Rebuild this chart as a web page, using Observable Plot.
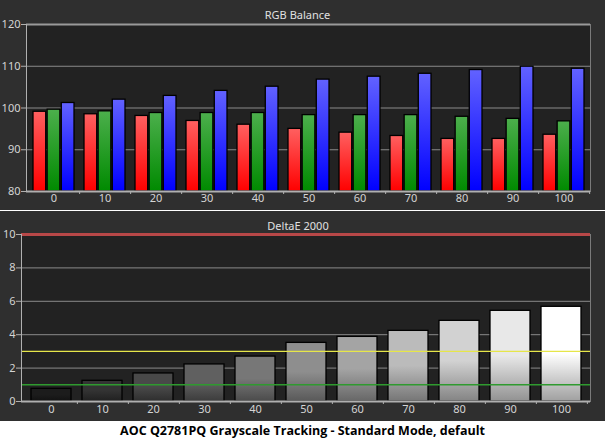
<!DOCTYPE html>
<html><head><meta charset="utf-8">
<script src="https://cdn.jsdelivr.net/npm/d3@7"></script>
<script src="https://cdn.jsdelivr.net/npm/@observablehq/plot@0.6"></script>
<style>
html,body{margin:0;padding:0;background:#2f2f2f;}
#wrap{width:605px;}
.sep{height:1px;background:#ffffff;}
#title{height:20px;background:#ffffff;color:#000;font-family:'Open Sans',sans-serif;font-weight:bold;font-size:12.5px;text-align:center;line-height:20px;}
svg{display:block;}
</style></head><body>
<svg width="0" height="0" style="position:absolute"><defs id="defs">
<linearGradient id="gR" x1="0" y1="0" x2="0" y2="1"><stop offset="0" stop-color="#ff6060"/><stop offset="1" stop-color="#ff0000"/></linearGradient>
<linearGradient id="gG" x1="0" y1="0" x2="0" y2="1"><stop offset="0" stop-color="#4caf4c"/><stop offset="1" stop-color="#008a00"/></linearGradient>
<linearGradient id="gB" x1="0" y1="0" x2="0" y2="1"><stop offset="0" stop-color="#6262ff"/><stop offset="1" stop-color="#0000ff"/></linearGradient>
</defs></svg>
<div id="wrap"></div>
<script>
const levels = [0, 10, 20, 30, 40, 50, 60, 70, 80, 90, 100];
const red   = [99.1, 98.5, 98.1, 96.9, 96.0, 95.0, 94.1, 93.3, 92.6, 92.6, 93.6];
const green = [99.6, 99.2, 98.8, 98.8, 98.8, 98.3, 98.3, 98.3, 97.9, 97.4, 96.8];
const blue  = [101.2, 102.0, 102.9, 104.1, 105.1, 106.8, 107.5, 108.2, 109.1, 109.9, 109.4];
const deltaE = [0.76, 1.24, 1.68, 2.22, 2.69, 3.51, 3.87, 4.23, 4.83, 5.43, 5.67];
const rgbTicks = [80, 90, 100, 110, 120];
const deTicks = [0, 2, 4, 6, 8, 10];
const titleTop = "RGB Balance";
const titleBottom = "DeltaE 2000";
const chartTitle = "AOC Q2781PQ Grayscale Tracking - Standard Mode, default";

const cats = levels.map(String);
const rows = levels.map((l, i) => ({level: String(l), r: red[i], g: green[i], b: blue[i], de: deltaE[i]}));

// gray gradients for the deltaE bars
const defs = document.getElementById("defs");
levels.forEach((l) => {
  const top = d3.interpolateRgb("#1c1c1c", "#ffffff")(l / 100);
  const bot = d3.color(top).darker(1.3).formatHex();
  const g = document.createElementNS("http://www.w3.org/2000/svg", "linearGradient");
  g.setAttribute("id", "gw" + l);
  g.setAttribute("x1", "0"); g.setAttribute("y1", "0"); g.setAttribute("x2", "0"); g.setAttribute("y2", "1");
  [[0, top], [0.5, top], [1, bot]].forEach(([o, c]) => {
    const s = document.createElementNS("http://www.w3.org/2000/svg", "stop");
    s.setAttribute("offset", o); s.setAttribute("stop-color", c); g.appendChild(s);
  });
  defs.appendChild(g);
});

const style = {background: "#2f2f2f", color: "#d4d4d4", fontFamily: "'Noto Sans', sans-serif", fontSize: "11px"};
const stepTop = (605 - 26 - 15) / 11;
const bwTop = stepTop * 0.8;
const barW = (bwTop - 2.8) / 3;

const topPlot = Plot.plot({
  width: 605, height: 210, marginLeft: 26, marginRight: 15, marginTop: 24, marginBottom: 19,
  style,
  x: {domain: cats, paddingInner: 0.2, paddingOuter: 0.1, label: null},
  y: {domain: [80, 120], label: null},
  marks: [
    Plot.frame({fill: "#222222"}),
    Plot.ruleY([90, 100, 110], {stroke: "#8a8a8a"}),
    Plot.ruleY([120], {stroke: "#9a9a9a", strokeWidth: 2}),
    Plot.frame({anchor: "right", stroke: "#7a7a7a"}),
    Plot.barY(rows, {x: "level", y1: 80, y2: "r", fill: "url(#gR)", stroke: "#000", strokeWidth: 1.3, insetRight: bwTop - barW}),
    Plot.barY(rows, {x: "level", y1: 80, y2: "g", fill: "url(#gG)", stroke: "#000", strokeWidth: 1.3, insetLeft: barW + 1.4, insetRight: barW + 1.4}),
    Plot.barY(rows, {x: "level", y1: 80, y2: "b", fill: "url(#gB)", stroke: "#000", strokeWidth: 1.3, insetLeft: bwTop - barW}),
    Plot.ruleY([80], {stroke: "#b0b0b0", strokeWidth: 2}),
    Plot.frame({anchor: "left", stroke: "#b0b0b0"}),
    Plot.axisY({ticks: rgbTicks, tickSize: 5, tickPadding: 1, stroke: "#b0b0b0", fill: "#d4d4d4", label: null}),
    Plot.axisX({tickSize: 0, tickPadding: 3, fill: "#d4d4d4", label: null}),
    Plot.tickX(cats, {x: (d) => d, dx: stepTop / 2, insetTop: 167, insetBottom: -3, stroke: "#b0b0b0"}),
    Plot.text([titleTop], {text: (d) => d, frameAnchor: "top", lineAnchor: "middle", dy: -9, dx: -11, fill: "#e0e0e0"})
  ]
});

const stepBot = (605 - 21 - 15) / 11;
const botPlot = Plot.plot({
  width: 605, height: 210, marginLeft: 21, marginRight: 15, marginTop: 23, marginBottom: 20,
  style,
  x: {domain: cats, paddingInner: 0.22, paddingOuter: 0.11, label: null},
  y: {domain: [0, 10], label: null},
  color: {type: "identity"},
  marks: [
    Plot.frame({fill: "#222222"}),
    Plot.ruleY([2, 4, 6, 8], {stroke: "#8a8a8a"}),
    Plot.frame({anchor: "right", stroke: "#7a7a7a"}),
    Plot.barY(rows, {x: "level", y: "de", fill: (d) => `url(#gw${d.level})`, stroke: "#000", strokeWidth: 1.3}),
    Plot.ruleY([1], {stroke: "#2f9a2f", strokeWidth: 1.6}),
    Plot.ruleY([3], {stroke: "#e6e64a", strokeWidth: 1.4}),
    Plot.ruleY([10], {stroke: "#b84848", strokeWidth: 3}),
    Plot.ruleY([0], {stroke: "#b0b0b0", strokeWidth: 2}),
    Plot.frame({anchor: "left", stroke: "#b0b0b0"}),
    Plot.axisY({ticks: deTicks, tickSize: 5, tickPadding: 1, stroke: "#b0b0b0", fill: "#d4d4d4", label: null}),
    Plot.axisX({tickSize: 0, tickPadding: 4, fill: "#d4d4d4", label: null}),
    Plot.tickX(cats, {x: (d) => d, dx: stepBot / 2, insetTop: 167, insetBottom: -3, stroke: "#b0b0b0"}),
    Plot.text([titleBottom], {text: (d) => d, frameAnchor: "top", lineAnchor: "middle", dy: -8, dx: -8, fill: "#e0e0e0"})
  ]
});

const wrap = document.getElementById("wrap");
wrap.appendChild(topPlot);
const sep = document.createElement("div"); sep.className = "sep"; wrap.appendChild(sep);
wrap.appendChild(botPlot);
const t = document.createElement("div"); t.id = "title"; t.textContent = chartTitle; wrap.appendChild(t);
</script>
</body></html>
